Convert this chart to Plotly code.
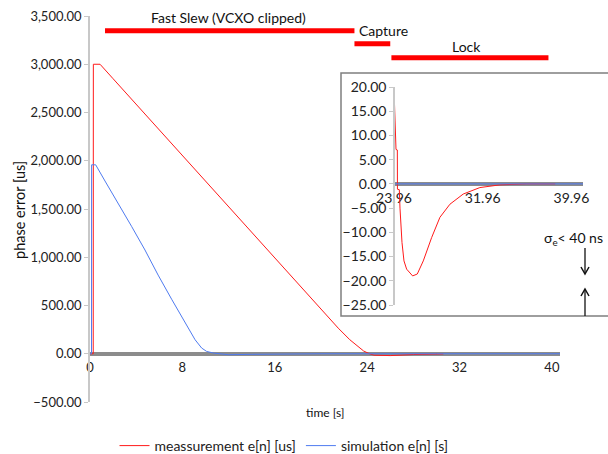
import plotly.graph_objects as go

# ---- data ----
meas_t = [0, 0.28, 0.29, 0.87, 2, 4, 6, 8, 10, 12, 14, 16, 18, 20, 21.5, 22.5, 23.2, 23.7, 24.2, 24.6, 26, 28, 30.6]
meas_v = [0, 0, 3000, 3000, 2850, 2585, 2320, 2055, 1790, 1525, 1260, 995, 730, 465, 265, 145, 75, 28, 0, -15, -19, -8, -2]

sim_t = [0, 0.13, 0.14, 0.49, 1.3, 2.45, 3.6, 4.76, 5.9, 7.07, 8.23, 9.1, 9.67, 10.1, 10.7, 12, 14, 16, 20, 30, 40.7]
sim_v = [0, 0, 1958, 1958, 1790, 1560, 1320, 1075, 815, 565, 318, 145, 59, 24, 7, -10, -6, -2, 0, 0, 0]

inset_meas_t = [23.96, 23.99, 24.14, 24.26, 24.27, 24.44, 24.5, 24.56, 24.68, 24.86, 25.1, 25.64, 26.06, 26.6,
                27.35, 28.1, 29.0, 30.2, 31.7, 33.5, 35.9, 38.5]
inset_meas_v = [17.5, 17.5, 7.1, 7.0, -1.1, -1.2, -5.0, -7.6, -12.1, -15.9, -17.6, -19.0, -18.6, -15.9,
                -11.1, -6.9, -4.2, -2.1, -0.76, -0.2, 0.0, 0.0]
inset_sim_t = [23.96, 41.0]
inset_sim_v = [0, 0]

phase_names = ["Fast Slew (VCXO clipped)", "Capture", "Lock"]
phase_start = [1.3, 22.9, 26.1]
phase_end = [22.9, 26.0, 39.7]
phase_level = [3347, 3212, 3067]

main_x_ticks = [0, 8, 16, 24, 32, 40]
inset_x_ticks = [23.96, 31.96, 39.96]

RED = "#ff1a1a"
BLUE = "#4f7bf0"
GRAY = "#8c8c8c"
LGRAY = "#c8c8c8"
FONT = "Lato"
TXT = "#111"

W, H = 608, 454
ML, MR, MT, MB = 90, 0, 16, 52
PW, PH = W - ML - MR, H - MT - MB


def px(x):
    return (x - ML) / PW


def py(y):
    return (H - MB - y) / PH


fig = go.Figure()
fig.add_trace(go.Scatter(x=meas_t, y=meas_v, mode="lines", line=dict(color=RED, width=1),
                         name="meassurement e[n] [us]", xaxis="x", yaxis="y"))
fig.add_trace(go.Scatter(x=sim_t, y=sim_v, mode="lines", line=dict(color=BLUE, width=1),
                         name="simulation e[n] [s]", xaxis="x", yaxis="y"))
fig.add_trace(go.Scatter(x=inset_meas_t, y=inset_meas_v, mode="lines", line=dict(color=RED, width=1),
                         showlegend=False, xaxis="x2", yaxis="y2"))
fig.add_trace(go.Scatter(x=inset_sim_t, y=inset_sim_v, mode="lines", line=dict(color=BLUE, width=1),
                         showlegend=False, xaxis="x2", yaxis="y2"))

shapes = []
# inset frame
shapes.append(dict(type="rect", xref="paper", yref="paper", x0=px(341), x1=1.05, y0=py(316), y1=py(73),
                   line=dict(color="#7f7f7f", width=1.5), fillcolor="white", layer="below"))
for name, s, e, lv in zip(phase_names, phase_start, phase_end, phase_level):
    shapes.append(dict(type="line", xref="x", yref="y", x0=s, x1=e, y0=lv, y1=lv,
                       line=dict(color="#ff0000", width=5)))

# sigma arrows (down arrow then up arrow)
AX = 585
shapes.append(dict(type="line", xref="paper", yref="paper", x0=px(AX), x1=px(AX), y0=py(248), y1=py(273),
                   line=dict(color=TXT, width=1.3)))
shapes.append(dict(type="path", xref="paper", yref="paper",
                   path="M %f,%f L %f,%f L %f,%f" % (px(AX - 4), py(267), px(AX), py(274), px(AX + 4), py(267)),
                   line=dict(color=TXT, width=1.5)))
shapes.append(dict(type="line", xref="paper", yref="paper", x0=px(AX), x1=px(AX), y0=py(290), y1=py(316),
                   line=dict(color=TXT, width=1.3)))
shapes.append(dict(type="path", xref="paper", yref="paper",
                   path="M %f,%f L %f,%f L %f,%f" % (px(AX - 4), py(296), px(AX), py(289), px(AX + 4), py(296)),
                   line=dict(color=TXT, width=1.5)))


def label(text, x, y, size=14, angle=0):
    return dict(text=text, x=px(x), y=py(y), xref="paper", yref="paper", xanchor="center",
                yanchor="middle", showarrow=False, textangle=angle, font=dict(size=size, color=TXT))


annotations = [
    label(phase_names[0], 228, 17),
    label(phase_names[1], 383, 30),
    label(phase_names[2], 466, 46),
    label("time [s]", 325, 412, size=12),
    label("phase error [us]", 19, 210, size=14.5, angle=-90),
    label("σ<sub>e</sub>&lt; 40 ns", 573, 238, size=14),
]

y2_dom = [py(305), py(87)]
zero2 = y2_dom[0] + 25 / 45 * (y2_dom[1] - y2_dom[0])

fig.update_layout(
    width=W, height=H,
    margin=dict(l=ML, r=MR, t=MT, b=MB, autoexpand=False),
    paper_bgcolor="white", plot_bgcolor="white",
    font=dict(family=FONT, size=13, color="#222"),
    showlegend=True,
    legend=dict(orientation="h", x=px(284), xanchor="center", y=py(446), yanchor="middle",
                font=dict(size=14, color="#222"), itemwidth=30, bgcolor="rgba(0,0,0,0)"),
    xaxis=dict(domain=[0, px(560)], range=[0, 40.7], anchor="free", position=py(354),
               showline=True, linecolor=GRAY, linewidth=4, showgrid=False, zeroline=False,
               tickvals=main_x_ticks, ticktext=[str(v) for v in main_x_ticks], ticks="",
               layer="below traces", tickfont=dict(size=13, color="#222")),
    yaxis=dict(domain=[0, 1], range=[-500, 3500], anchor="x", showline=True, linecolor=LGRAY,
               linewidth=1.5, showgrid=False, zeroline=False, dtick=500, tickformat=",.2f",
               ticks="outside", ticklen=4, tickcolor=LGRAY, tickfont=dict(size=13, color="#222")),
    xaxis2=dict(domain=[px(394), px(583)], range=[23.96, 41.0], anchor="free", position=zero2,
                showline=True, linecolor=GRAY, linewidth=4, showgrid=False, zeroline=False,
                tickvals=inset_x_ticks, ticktext=["%.2f" % v for v in inset_x_ticks], ticks="",
                layer="below traces", tickfont=dict(size=14, color="#222")),
    yaxis2=dict(domain=y2_dom, range=[-25, 20], anchor="free", position=px(394), showline=True,
                linecolor=LGRAY, linewidth=1.5, showgrid=False, zeroline=False, dtick=5,
                tickformat=".2f", ticks="outside", ticklen=4, tickcolor=LGRAY, tickfont=dict(size=14, color="#222")),
    shapes=shapes, annotations=annotations,
)

fig.write_html("out.html", config={"displayModeBar": False},
               post_script="document.body.style.margin='0px';document.body.style.overflow='hidden';")
